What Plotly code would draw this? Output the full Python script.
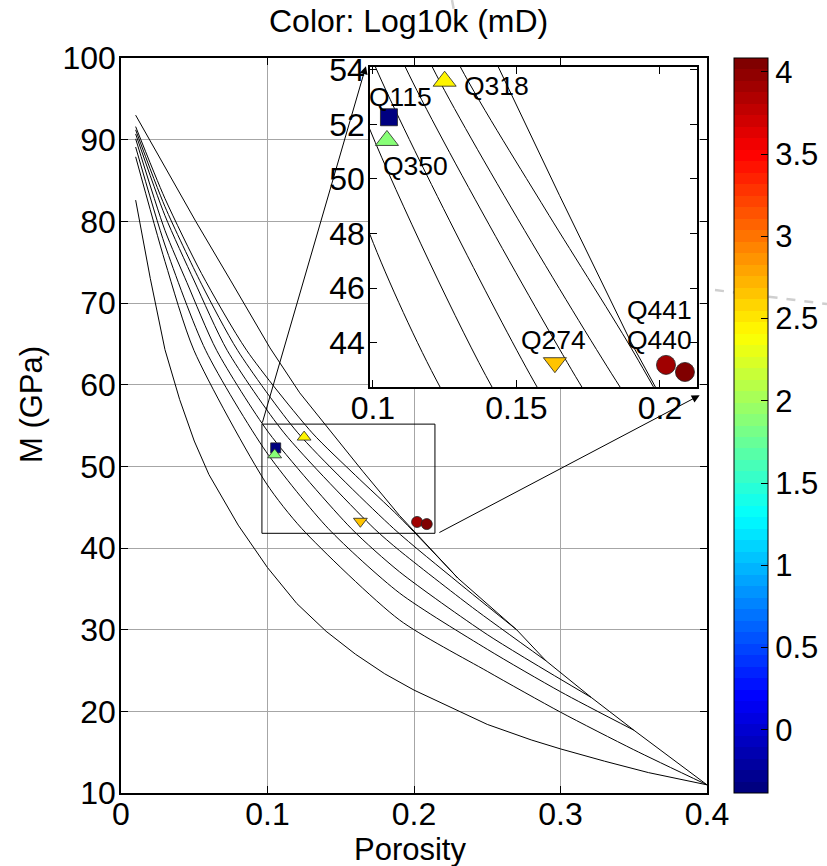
import plotly.graph_objects as go

# ---------------- data ----------------
samples = ["Q115", "Q350", "Q318", "Q274", "Q441", "Q440"]
porosity = [0.1056, 0.1049, 0.1250, 0.1634, 0.2021, 0.2087]
modulus = [52.26, 51.41, 53.58, 43.27, 43.19, 42.93]
log10k = [-0.38, 1.85, 2.41, 2.66, 3.94, 4.08]
symbols = ["square", "triangle-up", "triangle-up", "triangle-down", "circle", "circle"]

# friable (lowest) curve
friable_phi = [0.01, 0.02, 0.03, 0.04, 0.05, 0.06, 0.08, 0.10, 0.12, 0.14, 0.16, 0.18,
               0.20, 0.22, 0.25, 0.28, 0.30, 0.33, 0.36, 0.40]
friable_M = [82.6, 73.0, 64.3, 58.2, 53.1, 49.0, 42.8, 37.6, 33.2, 29.8, 27.0, 24.6,
             22.6, 20.9, 18.4, 16.5, 15.4, 13.9, 12.5, 11.0]

# upper (contact) curve
contact_phi = [0.01, 0.03, 0.051, 0.075, 0.1017, 0.122, 0.1437, 0.165, 0.19, 0.23,
               0.27, 0.29, 0.321, 0.35, 0.40]
contact_M = [93.0, 86.6, 80.0, 72.7, 64.5, 59.0, 54.1, 49.4, 44.0, 36.3,
             30.0, 26.2, 21.7, 17.7, 11.0]

# intermediate curves (top to bottom)
cf_phi = [0.01, 0.03, 0.055, 0.0858, 0.1305, 0.16, 0.19, 0.23]
cf_M = [91.6, 82.8, 73.6, 64.2, 54.1, 48.9, 43.8, 36.3]
ce_phi = [0.01, 0.03, 0.055, 0.0796, 0.1207, 0.1861, 0.23, 0.27]
ce_M = [91.2, 81.8, 72.3, 64.2, 54.1, 42.38, 35.8, 30.0]
cd_phi = [0.01, 0.03, 0.05, 0.0725, 0.1113, 0.1728, 0.19, 0.24, 0.29]
cd_M = [90.7, 80.7, 72.7, 64.2, 54.1, 42.38, 39.7, 32.7, 26.2]
cc_phi = [0.01, 0.03, 0.045, 0.0653, 0.1009, 0.1572, 0.19, 0.25, 0.321]
cc_M = [90.1, 78.9, 72.5, 64.2, 54.1, 42.38, 37.1, 29.4, 21.7]
cb_phi = [0.01, 0.03, 0.0578, 0.099, 0.1415, 0.19, 0.25, 0.30, 0.35]
cb_M = [89.1, 77.1, 64.2, 51.8, 42.38, 34.5, 27.6, 22.4, 17.7]
ca_phi = [0.01, 0.03, 0.0498, 0.099, 0.1234, 0.19, 0.25, 0.30, 0.35, 0.40]
ca_M = [87.9, 75.1, 64.2, 47.96, 42.38, 31.2, 24.9, 19.9, 15.3, 11.0]

curves = [(friable_phi, friable_M), (ca_phi, ca_M), (cb_phi, cb_M), (cc_phi, cc_M),
          (cd_phi, cd_M), (ce_phi, ce_M), (cf_phi, cf_M), (contact_phi, contact_M)]

cbar_min, cbar_max = -0.385, 4.085
cbar_ticks = [0, 0.5, 1, 1.5, 2, 2.5, 3, 3.5, 4]
cbar_labels = ["0", "0.5", "1", "1.5", "2", "2.5", "3", "3.5", "4"]

zoom_box_x = [0.0962, 0.2143]
zoom_box_y = [41.8, 55.17]
inset_x = [0.0990, 0.2129]
inset_y = [42.38, 54.1]

# ---------------- style ----------------
W, H = 827, 866
FONT = "Liberation Sans, Arial, sans-serif"


def jet(t):
    def c(v):
        return max(0.0, min(1.0, v))
    r = c(1.5 - abs(4 * t - 3))
    g = c(1.5 - abs(4 * t - 2))
    b = c(1.5 - abs(4 * t - 1))
    return "rgb(%d,%d,%d)" % (round(r * 255), round(g * 255), round(b * 255))


n = 64
jet_scale = []
for i in range(n):
    col = jet(i / (n - 1))
    jet_scale.append([i / n, col])
    jet_scale.append([(i + 1) / n, col])


def px_x(p):
    return p / W


def px_y(p):
    return 1 - p / H


fig = go.Figure()

# white backing for the inset axes (drawn in the inset subplot, above main grid)
fig.add_trace(go.Scatter(
    x=[inset_x[0], inset_x[1], inset_x[1], inset_x[0], inset_x[0]],
    y=[inset_y[0], inset_y[0], inset_y[1], inset_y[1], inset_y[0]],
    xaxis="x2", yaxis="y2", mode="lines", fill="toself", fillcolor="white",
    line=dict(width=0, color="white"), showlegend=False, hoverinfo="skip"))

for k, (phi, m) in enumerate(curves):
    shape = "linear" if k in (0, len(curves) - 1) else "spline"
    for xa, ya in (("x", "y"), ("x2", "y2")):
        fig.add_trace(go.Scatter(x=phi, y=m, mode="lines", xaxis=xa, yaxis=ya,
                                 line=dict(color="black", width=1, shape=shape,
                                           smoothing=0.7),
                                 showlegend=False, hoverinfo="skip"))

main_sizes = {"square": 10, "triangle-up": 12, "triangle-down": 12, "circle": 11}
inset_sizes = {"square": 17, "triangle-up": 20, "triangle-down": 20, "circle": 19}

fig.add_trace(go.Scatter(
    x=porosity, y=modulus, mode="markers", xaxis="x", yaxis="y", showlegend=False,
    marker=dict(symbol=symbols, size=[main_sizes[s] for s in symbols], color=log10k,
                coloraxis="coloraxis", opacity=1, line=dict(color="#222", width=0.8))))
fig.add_trace(go.Scatter(
    x=porosity, y=modulus, mode="markers", xaxis="x2", yaxis="y2", showlegend=False,
    marker=dict(symbol=symbols, size=[inset_sizes[s] for s in symbols], color=log10k,
                coloraxis="coloraxis", opacity=1, line=dict(color="#222", width=0.8))))

# labels in inset
label_offsets = {"Q115": (12, 20), "Q318": (52, -5), "Q350": (29, -26),
                 "Q274": (-1, 23), "Q441": (-6, 55), "Q440": (-25, 32)}
for s, xv, yv in zip(samples, porosity, modulus):
    dx, dy = label_offsets[s]
    fig.add_annotation(x=xv, y=yv, xref="x2", yref="y2", text=s, showarrow=False,
                       xshift=dx, yshift=dy, font=dict(family=FONT, size=26.5, color="black"))

# zoom box on main
fig.add_shape(type="rect", xref="x", yref="y", x0=zoom_box_x[0], x1=zoom_box_x[1],
              y0=zoom_box_y[0], y1=zoom_box_y[1], line=dict(color="black", width=1))

# arrows
fig.add_annotation(x=0.1672, y=99.0, ax=zoom_box_x[0], ay=zoom_box_y[1], xref="x", yref="y",
                   axref="x", ayref="y", showarrow=True, arrowhead=2, arrowsize=1.6,
                   arrowwidth=1, arrowcolor="black", text="")
fig.add_annotation(x=0.395, y=58.7, ax=zoom_box_x[1] + 0.002, ay=zoom_box_y[0], xref="x",
                   yref="y", axref="x", ayref="y", showarrow=True, arrowhead=2,
                   arrowsize=1.6, arrowwidth=1, arrowcolor="black", text="")

# faint grey dash artefacts
fig.add_shape(type="line", xref="paper", yref="paper", x0=px_x(452), y0=px_y(0),
              x1=px_x(458), y1=px_y(32), line=dict(color="#d0d0d0", width=2.5, dash="dash"),
              layer="above")
fig.add_shape(type="line", xref="paper", yref="paper", x0=px_x(715), y0=px_y(290),
              x1=px_x(827), y1=px_y(304), line=dict(color="#cfcfcf", width=2.5, dash="dash"),
              layer="below")

# title and axis titles
fig.add_annotation(x=px_x(408), y=px_y(21), xref="paper", yref="paper",
                   xanchor="center", yanchor="middle",
                   text="Color: Log10k (mD)", showarrow=False,
                   font=dict(family=FONT, size=32, color="black"))
fig.add_annotation(x=px_x(410), y=px_y(849), xref="paper", yref="paper",
                   xanchor="center", yanchor="middle",
                   text="Porosity", showarrow=False,
                   font=dict(family=FONT, size=31, color="black"))
fig.add_annotation(x=px_x(31), y=px_y(405), xref="paper", yref="paper",
                   xanchor="center", yanchor="middle", textangle=-90,
                   text="M (GPa)", showarrow=False,
                   font=dict(family=FONT, size=31, color="black"))

axis_common = dict(showline=True, linecolor="black", linewidth=1.5, mirror="ticks",
                   ticks="inside", ticklen=7, tickcolor="black", automargin=False,
                   tickfont=dict(family=FONT, size=32, color="black"), zeroline=False)

fig.update_layout(
    template="none",
    width=W, height=H, margin=dict(l=0, r=0, t=0, b=0, autoexpand=False),
    paper_bgcolor="white", plot_bgcolor="white",
    xaxis=dict(domain=[px_x(121), px_x(707)], range=[0, 0.4], dtick=0.1,
               showgrid=True, gridcolor="#a6a6a6", gridwidth=1, ticklabelstandoff=-8,
               **axis_common),
    yaxis=dict(domain=[px_y(793), px_y(58)], range=[10, 100], dtick=10,
               showgrid=True, gridcolor="#a6a6a6", gridwidth=1, ticklabelstandoff=-3,
               **axis_common),
    xaxis2=dict(domain=[px_x(370), px_x(697)], range=inset_x, tickvals=[0.1, 0.15, 0.2],
                ticktext=["0.1", "0.15", "0.2"], showgrid=False, anchor="y2",
                ticklabelstandoff=-8, **axis_common),
    yaxis2=dict(domain=[px_y(387), px_y(67)], range=inset_y, tickvals=[44, 46, 48, 50, 52, 54],
                showgrid=False, anchor="x2", ticklabelstandoff=-3, **axis_common),
    coloraxis=dict(colorscale=jet_scale, cmin=cbar_min, cmax=cbar_max,
                   colorbar=dict(x=px_x(734), xanchor="left", y=px_y((58 + 793) / 2),
                                 yanchor="middle", len=(793 - 58) / H, lenmode="fraction",
                                 thickness=34, thicknessmode="pixels",
                                 outlinecolor="black", outlinewidth=1,
                                 tickvals=cbar_ticks, ticktext=cbar_labels,
                                 ticks="inside", ticklen=7, tickcolor="black",
                                 tickfont=dict(family=FONT, size=31, color="black"),
                                 xpad=0, ypad=0)),
)

fig.write_html("out.html", config={"displayModeBar": False},
               post_script="document.body.style.margin='0px';")
